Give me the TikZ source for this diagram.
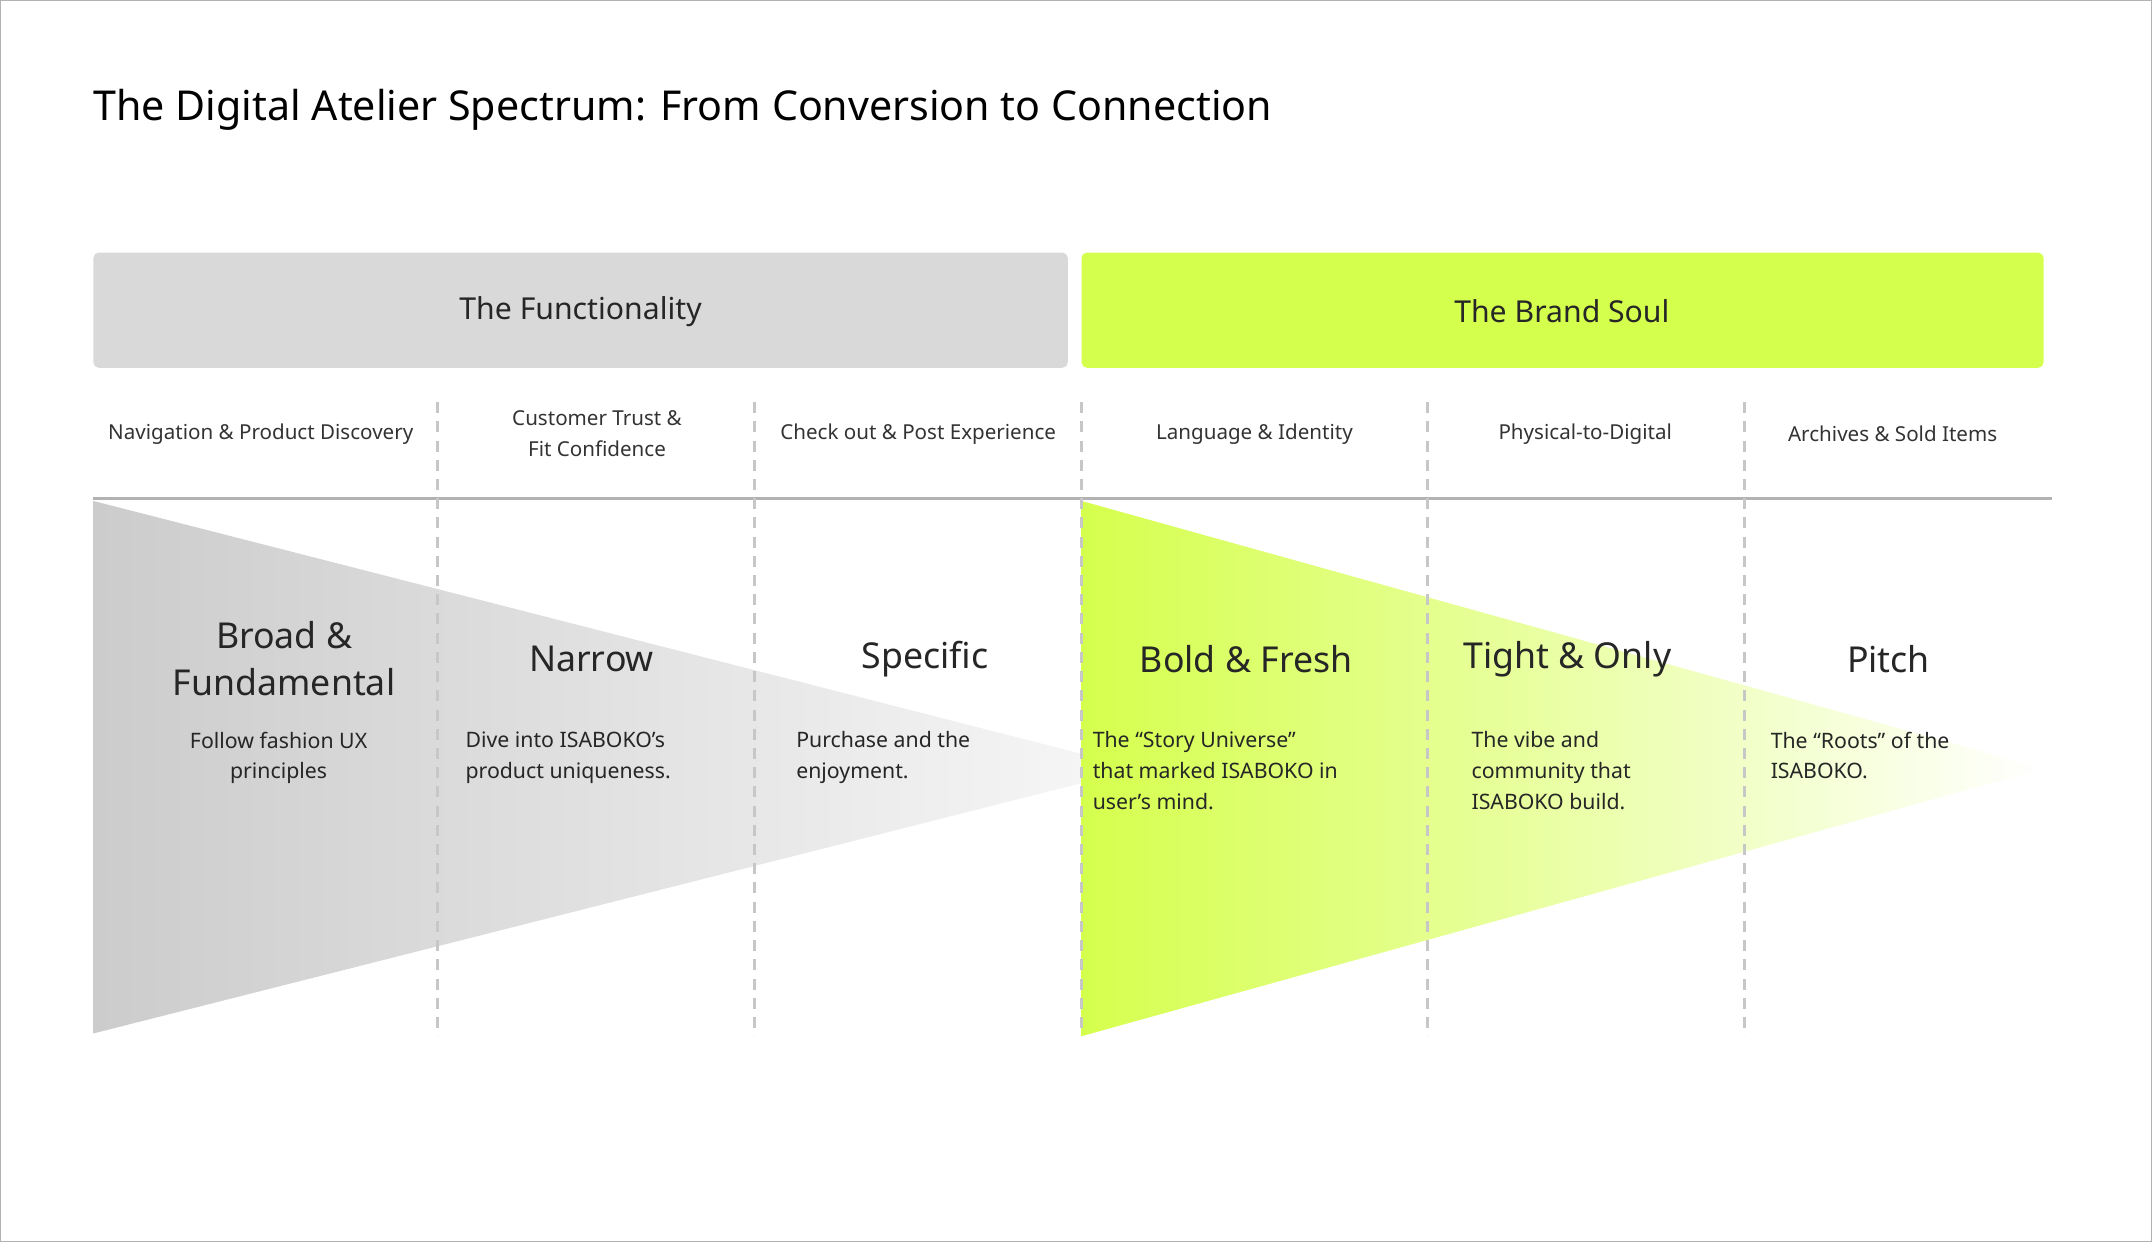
\documentclass[tikz,border=0pt]{standalone}
\usepackage{fontspec}
\setmainfont{Noto Sans}
\begin{document}
\begin{tikzpicture}[x=1pt,y=-1pt,
  hdr/.style={font=\fontsize{22}{26}\selectfont\bfseries,text=black!85},
  col/.style={font=\fontsize{15}{22}\selectfont,text=black!80,align=center},
  big/.style={font=\fontsize{26}{34}\selectfont\bfseries,text=black!85,align=center},
  desc/.style={font=\fontsize{15.5}{22.5}\selectfont,text=black!85,align=left,anchor=north west,inner sep=0},
  dsh/.style={draw=black!22,line width=2.2pt,dash pattern=on 8pt off 6pt}]
\useasboundingbox (0,0) rectangle (1568,905);
\draw[black!30,line width=1pt] (0.5,0.5) rectangle (1567.5,904.5);
\node[anchor=west,font=\fontsize{30}{36}\selectfont\bfseries,inner sep=0] (title) at (68,80) {The Digital Atelier Spectrum: From Conversion to Connection};
\fill[rounded corners=4pt,fill=black!15] (68,184) rectangle (778,268);
\fill[rounded corners=4pt,fill={rgb,255:red,213;green,255;blue,77}] (788,184) rectangle (1489,268);
\node[hdr] (f) at (423,227) {The Functionality};
\node[hdr] (b) at (1138,227) {The Brand Soul};
\node[col] (c1) at (190,316) {Navigation \& Product Discovery};
\node[col] (c2) at (435,316) {Customer Trust \&\\Fit Confidence};
\node[col] (c3) at (669,316) {Check out \& Post Experience};
\node[col] (c4) at (914,316) {Language \& Identity};
\node[col] (c5) at (1155,316) {Physical-to-Digital};
\node[col] (c6) at (1379,316) {Archives \& Sold Items};
\draw[black!30,line width=2pt] (68,363) -- (1495,363);
\shade[left color=black!20,right color=black!3] (68,365) -- (830,560) -- (68,753) -- cycle;
\shade[left color={rgb,255:red,213;green,255;blue,77},right color=white] (788,365) -- (1489,560) -- (788,755) -- cycle;
\foreach \x in {319,550,788,1040,1271} \draw[dsh] (\x,293) -- (\x,755);
\node[big] (h1) at (207,480) {Broad \&\\Fundamental};
\node[big] (h2) at (431,480) {Narrow};
\node[big] (h3) at (674,480) {Specific};
\node[big] (h4) at (908,480) {Bold \& Fresh};
\node[big] (h5) at (1142,480) {Tight \& Only};
\node[big] (h6) at (1376,480) {Pitch};
\node[desc,align=center,anchor=north] (d1) at (203,533) {Follow fashion UX\\principles};
\node[desc] (d2) at (339,533) {Dive into ISABOKO’s\\product uniqueness.};
\node[desc] (d3) at (580,533) {Purchase and the\\enjoyment.};
\node[desc] (d4) at (796,533) {The “Story Universe”\\that marked ISABOKO in\\user’s mind.};
\node[desc] (d5) at (1072,533) {The vibe and\\community that\\ISABOKO build.};
\node[desc] (d6) at (1290,533) {The “Roots” of the\\ISABOKO.};
\end{tikzpicture}
\end{document}
